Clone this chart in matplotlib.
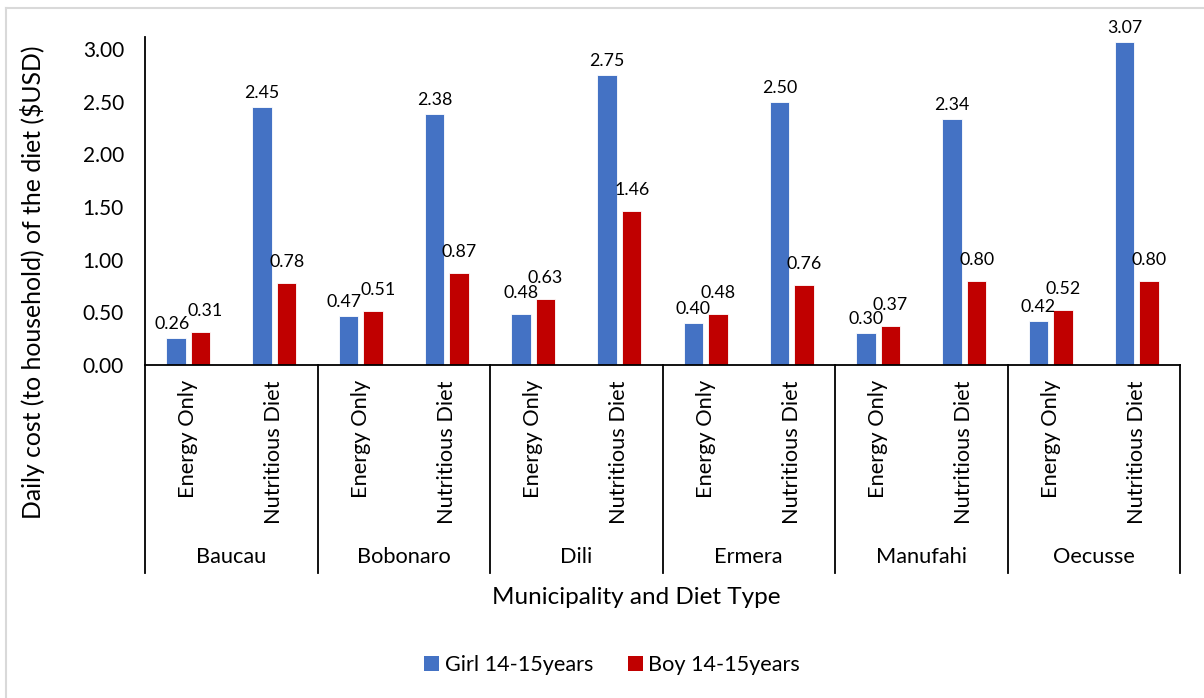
import matplotlib
matplotlib.use("Agg")
import matplotlib.pyplot as plt
from matplotlib.lines import Line2D
from matplotlib.patches import Patch

plt.rcParams['font.family'] = ['Lato', 'DejaVu Sans']

# ---- data ----
municipalities = ["Baucau", "Bobonaro", "Dili", "Ermera", "Manufahi", "Oecusse"]
diet_types = ["Energy Only", "Nutritious Diet"]
series_names = ["Girl 14-15years", "Boy 14-15years"]
girl_cost = [0.26, 2.45, 0.47, 2.38, 0.48, 2.75, 0.40, 2.50, 0.30, 2.34, 0.42, 3.07]
boy_cost = [0.31, 0.78, 0.51, 0.87, 0.63, 1.46, 0.48, 0.76, 0.37, 0.80, 0.52, 0.80]
yticks = [0.0, 0.5, 1.0, 1.5, 2.0, 2.5, 3.0]

BLUE = "#4472C4"
RED = "#C00000"
W, H, DPI = 1204, 698, 100


def px2pt(px):
    return px * 72.0 / DPI


fig = plt.figure(figsize=(W / DPI, H / DPI), dpi=DPI)
left, right, top, bottom = 145, 1180, 37, 365
ax = fig.add_axes([left / W, 1 - bottom / H, (right - left) / W, (bottom - top) / H])

n = len(girl_cost)
centers = [i + 0.5 for i in range(n)]
off, bw = 0.143, 0.226
ax.bar([c - off for c in centers], girl_cost, width=bw, color=BLUE,
       edgecolor="white", linewidth=0.6, zorder=2)
ax.bar([c + off for c in centers], boy_cost, width=bw, color=RED,
       edgecolor="white", linewidth=0.6, zorder=2)

ax.set_xlim(0, n)
ax.set_ylim(0, 3.115)
ax.set_yticks(yticks)
ax.set_yticklabels([f"{v:.2f}" for v in yticks])
ax.tick_params(axis="y", length=0, labelsize=15, pad=px2pt(21), colors="black")
ax.set_xticks([])
for s in ("top", "right"):
    ax.spines[s].set_visible(False)
ax.spines["left"].set_linewidth(1.3)
ax.spines["bottom"].set_linewidth(1.3)

# value labels above bars, nudged apart when the pair is close in height
px_per_unit = (bottom - top) / 3.115
for c, g, b in zip(centers, girl_cost, boy_cost):
    diff_px = (b - g) * px_per_unit
    g_gap = 21 if diff_px > 14 else 14
    dx_g, dx_b = (-4, 5) if abs(diff_px) < 6 else (0, 0)
    ax.annotate(f"{g:.2f}", (c - off, g), xytext=(px2pt(dx_g), px2pt(g_gap)),
                textcoords="offset points", ha="center", va="center", fontsize=12.8)
    ax.annotate(f"{b:.2f}", (c + off, b), xytext=(px2pt(dx_b), px2pt(21)),
                textcoords="offset points", ha="center", va="center", fontsize=12.8)

# two-level category table under the axis
xt = ax.get_xaxis_transform()
ybot = (bottom - 573) / (bottom - top)
for k in range(0, n + 1, 2):
    ax.add_line(Line2D([k, k], [0, ybot], transform=xt, color="black",
                       linewidth=1.3, clip_on=False))
for i, c in enumerate(centers):
    ax.text(c, (bottom - 380) / (bottom - top), diet_types[i % 2], transform=xt,
            rotation=90, ha="center", va="top", fontsize=15.7)
for j, name in enumerate(municipalities):
    ax.text(2 * j + 1, (bottom - 557) / (bottom - top), name, transform=xt,
            ha="center", va="center", fontsize=15.7)

fig.text(636 / W, 1 - 598 / H, "Municipality and Diet Type", ha="center",
         va="center", fontsize=17.5)
fig.text(33 / W, 1 - 282 / H, "Daily cost (to household) of the diet ($USD)",
         rotation=90, ha="center", va="center", fontsize=17.8)

handles = [Patch(facecolor=BLUE), Patch(facecolor=RED)]
fig.legend(handles, series_names, loc="center", bbox_to_anchor=(612 / W, 1 - 665 / H),
           ncol=2, frameon=False, fontsize=15.6, handlelength=0.7, handleheight=0.7,
           handletextpad=0.25, columnspacing=1.6)

# light frame around the chart area
fig.add_artist(Line2D([6 / W, 6 / W], [0, 1 - 8 / H], color="#D9D9D9", linewidth=1.5))
fig.add_artist(Line2D([6 / W, 1], [1 - 8 / H, 1 - 8 / H], color="#D9D9D9", linewidth=1.5))

fig.savefig("out.png", dpi=DPI)
